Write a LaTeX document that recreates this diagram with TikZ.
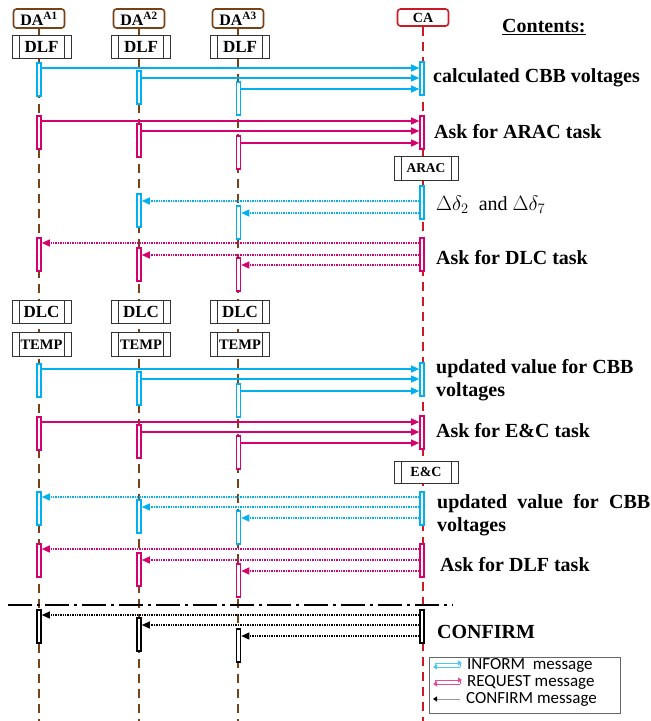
\documentclass[tikz,border=0pt]{standalone}
\usepackage{fontspec}
\setmainfont{Liberation Serif}
\newfontfamily\legendfont{Carlito}
\usetikzlibrary{arrows.meta,positioning,calc}

\definecolor{infoblue}{RGB}{0,176,240}
\definecolor{reqred}{RGB}{214,0,110}
\definecolor{dabrown}{RGB}{120,66,22}
\definecolor{cared}{RGB}{205,25,35}
\newcommand{\fsz}[1]{\fontsize{#1}{#1}\selectfont}

\begin{document}
\begin{tikzpicture}[x=1pt, y=-1pt,
  head/.style={draw=dabrown, line width=1.6pt, rounded corners=3pt, fill=white, minimum width=51pt, minimum height=19pt, inner sep=0pt, font=\bfseries\fsz{16}},
  task/.style={draw=black!80, line width=1pt, fill=white, minimum width=59pt, minimum height=23pt, inner sep=0pt, font=\bfseries\fsz{17},
    path picture={\draw[black!80, line width=1pt]
      ([xshift=7pt]path picture bounding box.north west) -- ([xshift=7pt]path picture bounding box.south west)
      ([xshift=-7pt]path picture bounding box.north east) -- ([xshift=-7pt]path picture bounding box.south east);}},
  life/.style={line width=2pt, dash pattern=on 9pt off 6pt},
  bar/.style={draw, fill=white, line width=1.6pt, minimum width=4pt, minimum height=33pt, inner sep=0pt, anchor=north},
  inf/.style={draw=infoblue}, req/.style={draw=reqred}, con/.style={draw=black},
  msg/.style={line width=1.3pt, -{Triangle[length=8pt, width=7pt]}},
  back/.style={msg, dash pattern=on 1.4pt off 1pt},
  note/.style={anchor=west, inner sep=0pt, font=\bfseries\fsz{20}},
  legtext/.style={anchor=west, inner sep=0pt, font=\legendfont\fsz{17}}
]
  \useasboundingbox (0,0) rectangle (651,721);

  \node[head] (da1) at (39,18.5) {DA\textsuperscript{A1}};
  \node[head] (da2) at (139,18.5) {DA\textsuperscript{A2}};
  \node[head] (da3) at (238,18.5) {DA\textsuperscript{A3}};
  \node[head, draw=cared, minimum height=17pt, font=\bfseries\fsz{14}] (ca) at (423,17.5) {CA};
  \node[note] (cont) at (502,27) {\underline{Contents:}};

  \coordinate (bot) at (0,721);
  \draw[life, dabrown] (da1.south) -- (da1.south |- bot);
  \draw[life, dabrown] (da2.south) -- (da2.south |- bot);
  \draw[life, dabrown] (da3.south) -- (da3.south |- bot);
  \draw[life, cared] (ca.south) -- (ca.south |- bot);

  \node[task, below=6.5pt of da1, xshift=2.5pt] (dlf1) {DLF};
  \node[task, below=6.5pt of da2, xshift=2pt] (dlf2) {DLF};
  \node[task, below=6.5pt of da3, xshift=2pt] (dlf3) {DLF};
  \node[task] (dlc1) at (41.5,312) {DLC};
  \node[task] (dlc2) at (141,312) {DLC};
  \node[task] (dlc3) at (240,312) {DLC};
  \node[task, below=8pt of dlc1, minimum height=24pt, font=\bfseries\fsz{14.5}] (temp1) {TEMP};
  \node[task, below=8pt of dlc2, minimum height=24pt, font=\bfseries\fsz{14.5}] (temp2) {TEMP};
  \node[task, below=8pt of dlc3, minimum height=24pt, font=\bfseries\fsz{14.5}] (temp3) {TEMP};
  \node[task, minimum width=64pt, minimum height=24pt, font=\bfseries\fsz{13.5}] (arac) at (426,168) {ARAC};
  \node[task, minimum width=64pt, minimum height=22pt, font=\bfseries\fsz{14}] (ec) at (426,472) {E\&C};

  % calculated CBB voltages
  \node[bar, inf] (vca) at (422,61) {};
  \node[bar, inf] (v1) at (39,62) {};
  \node[bar, inf] (v2) at (139,70) {};
  \node[bar, inf] (v3) at (238.5,81) {};
  \draw[msg, infoblue] ($(v1.north east)+(0,6)$) -- ($(vca.west |- v1.north east)+(0,6)$);
  \draw[msg, infoblue] ($(v2.north east)+(0,8)$) -- ($(vca.west |- v2.north east)+(0,8)$);
  \draw[msg, infoblue] ($(v3.north east)+(0,8)$) -- ($(vca.west |- v3.north east)+(0,8)$);
  \node[note] (t1) at (433,78) {calculated CBB voltages};

  % ARAC request
  \node[bar, req] (rca) at (422,115) {};
  \node[bar, req] (r1) at (39,115) {};
  \node[bar, req] (r2) at (139,123) {};
  \node[bar, req] (r3) at (238.5,135) {};
  \draw[msg, reqred] ($(r1.north east)+(0,6)$) -- ($(rca.west |- r1.north east)+(0,6)$);
  \draw[msg, reqred] ($(r2.north east)+(0,8)$) -- ($(rca.west |- r2.north east)+(0,8)$);
  \draw[msg, reqred] ($(r3.north east)+(0,8)$) -- ($(rca.west |- r3.north east)+(0,8)$);
  \node[note] (t2) at (434,132) {Ask for ARAC task};

  % delta values
  \node[bar, inf] (dca) at (422,185) {};
  \node[bar, inf] (d2) at (139,193) {};
  \node[bar, inf] (d3) at (238.5,205) {};
  \draw[back, infoblue] ($(dca.west |- d2.north east)+(0,8)$) -- ($(d2.north east)+(0,8)$);
  \draw[back, infoblue] ($(dca.west |- d3.north east)+(0,8)$) -- ($(d3.north east)+(0,8)$);
  \node[note, font=\fsz{20}] (t3) at (436,205) {$\Delta\delta_2$\ \ and $\Delta\delta_7$};

  % DLC request
  \node[bar, req] (qca) at (422,237) {};
  \node[bar, req] (q1) at (39,237) {};
  \node[bar, req] (q2) at (139,247) {};
  \node[bar, req] (q3) at (238.5,257) {};
  \draw[back, reqred] ($(qca.west |- q1.north east)+(0,6)$) -- ($(q1.north east)+(0,6)$);
  \draw[back, reqred] ($(qca.west |- q2.north east)+(0,8)$) -- ($(q2.north east)+(0,8)$);
  \draw[back, reqred] ($(qca.west |- q3.north east)+(0,8)$) -- ($(q3.north east)+(0,8)$);
  \node[note] (t4) at (436,258) {Ask for DLC task};

  % updated voltages
  \node[bar, inf] (uca) at (422,362) {};
  \node[bar, inf] (u1) at (39,363) {};
  \node[bar, inf] (u2) at (139,371) {};
  \node[bar, inf] (u3) at (238.5,383) {};
  \draw[msg, infoblue] ($(u1.north east)+(0,6)$) -- ($(uca.west |- u1.north east)+(0,6)$);
  \draw[msg, infoblue] ($(u2.north east)+(0,8)$) -- ($(uca.west |- u2.north east)+(0,8)$);
  \draw[msg, infoblue] ($(u3.north east)+(0,8)$) -- ($(uca.west |- u3.north east)+(0,8)$);
  \node[note, align=left, font=\bfseries\fontsize{20}{23}\selectfont] (t5) at (436,380) {updated value for CBB\\voltages};

  % E&C request
  \node[bar, req] (eca) at (422,415) {};
  \node[bar, req] (e1) at (39,416) {};
  \node[bar, req] (e2) at (139,424) {};
  \node[bar, req] (e3) at (238.5,435) {};
  \draw[msg, reqred] ($(e1.north east)+(0,6)$) -- ($(eca.west |- e1.north east)+(0,6)$);
  \draw[msg, reqred] ($(e2.north east)+(0,8)$) -- ($(eca.west |- e2.north east)+(0,8)$);
  \draw[msg, reqred] ($(e3.north east)+(0,8)$) -- ($(eca.west |- e3.north east)+(0,8)$);
  \node[note] (t6) at (436,431) {Ask for E\&C task};

  % updated voltages back
  \node[bar, inf] (wca) at (422,491) {};
  \node[bar, inf] (w1) at (39,491) {};
  \node[bar, inf] (w2) at (139,499) {};
  \node[bar, inf] (w3) at (238.5,510) {};
  \draw[back, infoblue] ($(wca.west |- w1.north east)+(0,6)$) -- ($(w1.north east)+(0,6)$);
  \draw[back, infoblue] ($(wca.west |- w2.north east)+(0,8)$) -- ($(w2.north east)+(0,8)$);
  \draw[back, infoblue] ($(wca.west |- w3.north east)+(0,8)$) -- ($(w3.north east)+(0,8)$);
  \node[note, text width=213pt, align=justify, font=\bfseries\fontsize{20}{23}\selectfont] (t7) at (437,515) {updated value for CBB voltages};

  % DLF request
  \node[bar, req] (fca) at (422,543) {};
  \node[bar, req] (f1) at (39,543) {};
  \node[bar, req] (f2) at (139,552) {};
  \node[bar, req] (f3) at (238.5,563) {};
  \draw[back, reqred] ($(fca.west |- f1.north east)+(0,6)$) -- ($(f1.north east)+(0,6)$);
  \draw[back, reqred] ($(fca.west |- f2.north east)+(0,8)$) -- ($(f2.north east)+(0,8)$);
  \draw[back, reqred] ($(fca.west |- f3.north east)+(0,8)$) -- ($(f3.north east)+(0,8)$);
  \node[note] (t8) at (440,565) {Ask for DLF task};

  \coordinate (sepL) at (8,605);
  \coordinate (sepR) at (453,605);
  \draw[line width=2.6pt, dash pattern=on 24pt off 5pt on 3pt off 5pt] (sepL) -- (sepR);

  % confirm
  \node[bar, con] (cca) at (422,609) {};
  \node[bar, con] (c1) at (39,609) {};
  \node[bar, con] (c2) at (139,617) {};
  \node[bar, con] (c3) at (238.5,628) {};
  \draw[back, black] ($(cca.west |- c1.north east)+(0,6)$) -- ($(c1.north east)+(0,6)$);
  \draw[back, black] ($(cca.west |- c2.north east)+(0,8)$) -- ($(c2.north east)+(0,8)$);
  \draw[back, black] ($(cca.west |- c3.north east)+(0,8)$) -- ($(c3.north east)+(0,8)$);
  \node[note] (t9) at (437,632) {CONFIRM};

  % legend
  \node[draw=black!60, line width=0.8pt, fill=white, minimum width=191pt, minimum height=56pt, inner sep=0pt] (legend) at (524.5,685) {};
  \node[legtext] (li) at (467,665) {INFORM\ \ message};
  \node[legtext] (lr) at (467,682) {REQUEST message};
  \node[legtext] (lc) at (466,699) {CONFIRM message};
  \draw[infoblue!70, line width=1pt, -{Triangle[length=4pt, width=5pt]}] ($(li.west)+(-32,-2)$) -- ($(li.west)+(-5,-2)$);
  \draw[infoblue!70, line width=1pt, -{Triangle[length=4pt, width=5pt]}] ($(li.west)+(-7,2)$) -- ($(li.west)+(-34,2)$);
  \draw[infoblue!70, line width=1pt] ($(li.west)+(-32,-2)$) -- ($(li.west)+(-32,2)$) ($(li.west)+(-7,-2)$) -- ($(li.west)+(-7,2)$);
  \draw[reqred!70, line width=1pt, -{Triangle[length=4pt, width=5pt]}] ($(lr.west)+(-32,-2)$) -- ($(lr.west)+(-5,-2)$);
  \draw[reqred!70, line width=1pt, -{Triangle[length=4pt, width=5pt]}] ($(lr.west)+(-7,2)$) -- ($(lr.west)+(-34,2)$);
  \draw[reqred!70, line width=1pt] ($(lr.west)+(-32,-2)$) -- ($(lr.west)+(-32,2)$) ($(lr.west)+(-7,-2)$) -- ($(lr.west)+(-7,2)$);
  \draw[black!40, line width=1pt, -{Triangle[color=black, length=4pt, width=5pt]}] ($(lc.west)+(-6,0)$) -- ($(lc.west)+(-33,0)$);
\end{tikzpicture}
\end{document}
